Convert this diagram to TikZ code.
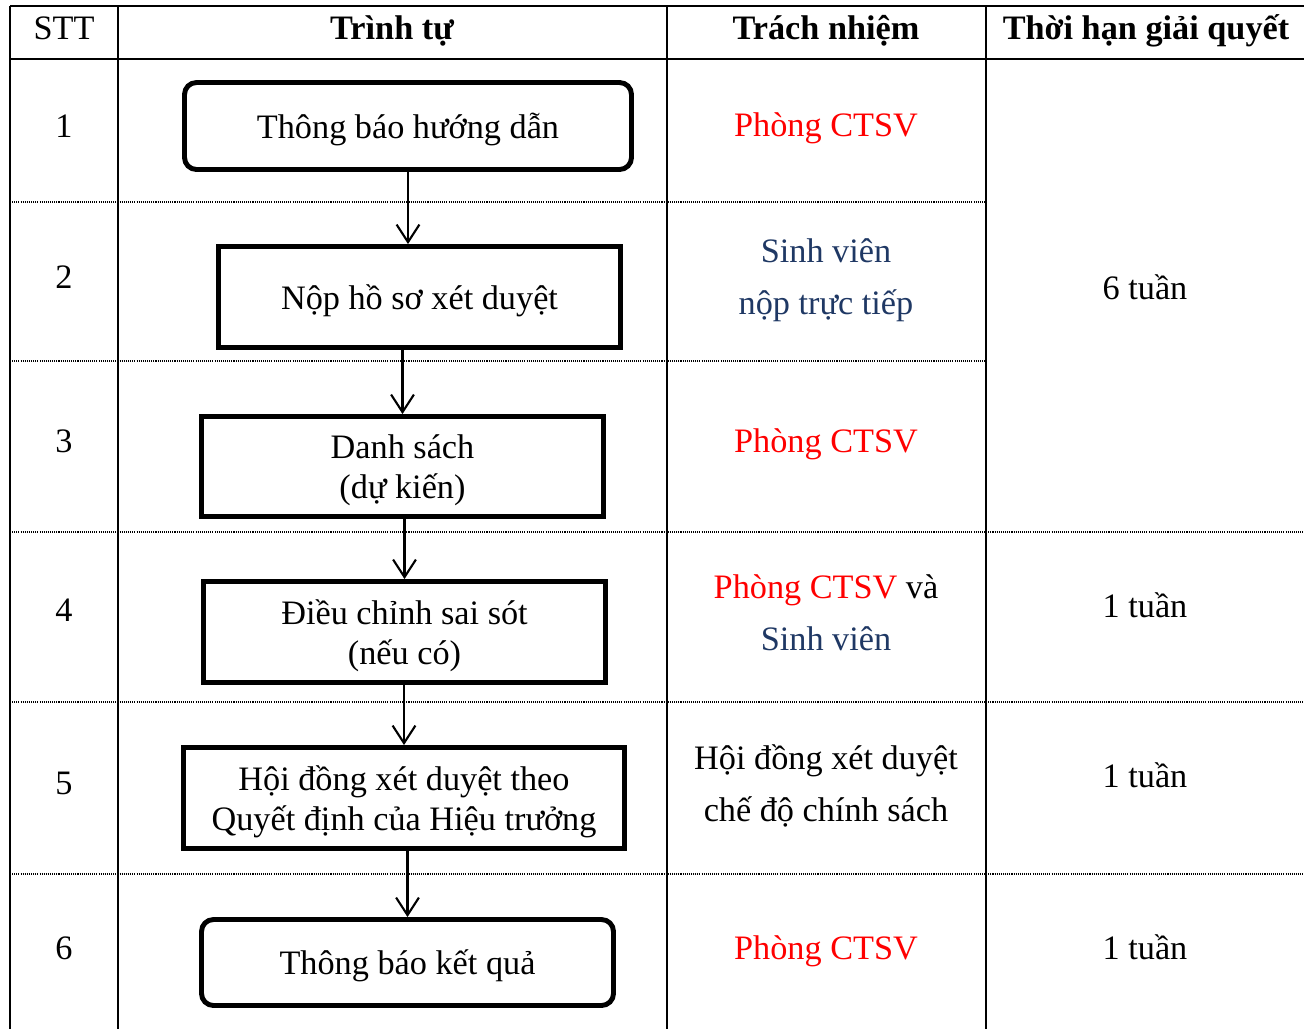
\documentclass[tikz,border=0pt]{standalone}
\usepackage{fontspec}
\setmainfont{Liberation Serif}
\usetikzlibrary{
    arrows.meta,
    calc,
    %positioning,
}
\definecolor{ctsvred}{RGB}{255,0,0}
\definecolor{svblue}{RGB}{31,56,100}

\begin{document}
\begin{tikzpicture}[x=0.02cm, y=-0.02cm,
    every node/.style = {inner sep=0pt, font=\fontsize{19.5}{23}\selectfont},
    main/.style 2 args = {draw, line width=2.8pt, align=center, text depth=0pt,
        minimum width=#1*0.02cm, minimum height=#2*0.02cm},
    mainr/.style 2 args = {main={#1}{#2}, rounded corners=0.24cm},
    head/.style = {font=\fontsize{19.5}{23}\selectfont\bfseries},
    cell/.style = {align=center, font=\fontsize{19.5}{29.5}\selectfont},
    rule/.style = {line width=1.6pt},
    dotrule/.style = {line width=0.8pt, dash pattern=on 0.6pt off 0.6pt},
    flow/.style = {line width=1.2pt, -{Straight Barb[length=10pt, width=13pt]}}]
    \useasboundingbox (0,0) rectangle (1304,1029);
    % table
    \draw[rule] (10,6) -- (1304,6);
    \draw[rule] (10,59) -- (1304,59);
    \foreach \x in {10,118,667,986}
        \draw[rule] (\x,6) -- (\x,1029);
    \foreach \y in {202,361}
        \draw[dotrule] (10,\y) -- (986,\y);
    \foreach \y in {532,702,874}
        \draw[dotrule] (10,\y) -- (1304,\y);
    % header
    \node (h1) at (64,28) {STT};
    \node[head] (h2) at (392,31) {Trình tự};
    \node[head] (h3) at (826,31) {Trách nhiệm};
    \node[head] (h4) at (1146,31) {Thời hạn giải quyết};
    % steps
    \node[mainr={447}{87}] (1) at (408,126) {Thông báo hướng dẫn};
    \node[main={402}{101}] (2) at (419.5,297) {Nộp hồ sơ xét duyệt};
    \node[main={402}{100}] (3) at (402.5,466.5) {Danh sách\\(dự kiến)};
    \node[main={402}{101}] (4) at (404.5,632) {Điều chỉnh sai sót\\(nếu có)};
    \node[main={441}{101}] (5) at (404,798) {Hội đồng xét duyệt theo\\Quyết định của Hiệu trưởng};
    \node[mainr={412}{86}] (6) at (407.5,962.5) {Thông báo kết quả};
    \draw[flow] (1) -- (1 |- 2.north);
    \draw[flow] (2.south -| 3) -- (3);
    \draw[flow] (3.south -| 4) -- (4);
    \draw[flow] (4.south -| 5) -- (5);
    \draw[flow] (5.south -| 6) -- (6);
    % numbers
    \node (n1) at (64,126) {1};
    \node (n2) at (64,277) {2};
    \node (n3) at (64,441) {3};
    \node (n4) at (64,610) {4};
    \node (n5) at (64,783) {5};
    \node (n6) at (64,948) {6};
    % responsibility
    \node[cell, text=ctsvred] (r1) at (826,128) {Phòng CTSV};
    \node[cell, text=svblue] (r2) at (826,280) {Sinh viên\\nộp trực tiếp};
    \node[cell, text=ctsvred] (r3) at (826,444) {Phòng CTSV};
    \node[cell] (r4) at (826,613) {\textcolor{ctsvred}{Phòng CTSV} và\\\textcolor{svblue}{Sinh viên}};
    \node[cell] (r5) at (826,786) {Hội đồng xét duyệt\\chế độ chính sách};
    \node[cell, text=ctsvred] (r6) at (826,951) {Phòng CTSV};
    % time
    \node (t1) at (1145,287) {6 tuần};
    \node (t4) at (1145,605) {1 tuần};
    \node (t5) at (1145,775) {1 tuần};
    \node (t6) at (1145,947) {1 tuần};
\end{tikzpicture}
\end{document}
